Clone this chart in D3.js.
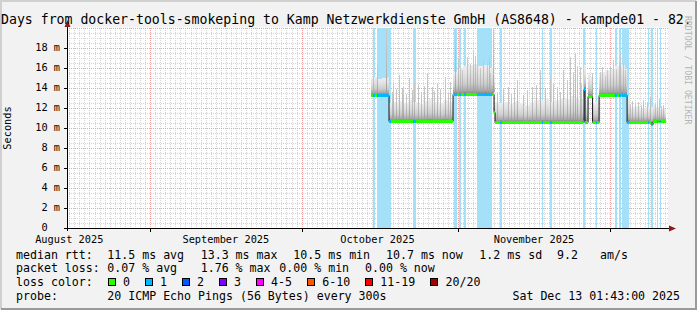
<!DOCTYPE html>
<html>
<head>
<meta charset="utf-8">
<script src="https://d3js.org/d3.v7.min.js"></script>
<style>
  body { margin: 0; background: #f2f2f2; }
  svg text { font-family: "DejaVu Sans Mono", monospace; white-space: pre; }
</style>
</head>
<body>
<svg width="697" height="310"></svg>
<script>
// all times are days counted from 2025-10-01 00:00 UTC
var medianSteps = [
  [13.74, 13.3], [17.30, 10.7], [29.98, 13.4], [38.09, 11.6], [38.29, 10.6],
  [55.72, 10.7], [55.91, 13.9], [56.11, 10.6], [56.71, 13.2], [57.60, 10.6],
  [58.89, 13.3], [64.43, 10.6], [69.19, 10.4], [69.58, 10.7], [72.16, 10.7]
];
// periods with 1/20 lost pings
var lossEvents = [
  [14.14, 14.53], [14.93, 17.70], [22.06, 22.65], [30.17, 30.77], [31.16, 31.56],
  [32.16, 32.55], [34.73, 37.70], [39.28, 39.67], [47.59, 47.79], [49.18, 49.58],
  [55.72, 56.11], [58.29, 58.49], [62.05, 62.45], [62.85, 63.24], [63.44, 64.83],
  [68.59, 68.79], [69.19, 69.48], [70.37, 70.57], [70.87, 71.07]
];
// smoke height above median, per day, starting at day 13
var smokeFirstDay = 13;
var smokeSpread = [
  1.7, 1.8, 1.6, 1.7, 1.8, 1.9, 2.0, 1.8, 2.1, 1.9,
  1.7, 2.0, 2.2, 1.9, 1.8, 2.1, 1.9, 2.2, 2.6, 2.8,
  2.9, 3.0, 2.8, 2.9, 2.6, 2.0, 1.9, 2.0, 1.8, 2.1,
  1.9, 1.7, 2.0, 2.2, 2.1, 2.3, 2.0, 2.2, 2.4, 2.3,
  2.6, 2.5, 2.4, 2.2, 1.9, 2.1, 2.3, 2.5, 2.6, 2.9,
  3.0, 2.6, 1.5, 1.6, 1.4, 1.5, 1.7, 1.4, 1.3, 1.2
];
// single slow pings [day, ms]
var spikes = [
  [14.14, 15.1], [14.93, 16.5], [16.77, 20.0], [18.10, 14.5], [19.28, 15.3],
  [20.08, 14.1], [21.26, 15.0], [22.26, 14.6], [23.05, 14.3], [24.83, 15.5],
  [25.82, 14.1], [26.81, 14.5], [28.39, 15.1], [29.38, 14.6], [30.37, 19.8],
  [31.76, 15.8], [32.75, 17.1], [33.94, 17.8], [34.73, 16.5], [35.91, 16.8],
  [37.30, 15.5], [37.89, 20.0], [39.87, 14.0], [40.86, 14.1], [42.64, 14.8],
  [43.83, 13.3], [45.61, 14.1], [47.19, 15.8], [49.18, 15.0], [50.57, 14.1],
  [51.76, 15.8], [53.14, 17.1], [54.13, 17.5], [55.12, 16.1], [57.50, 15.5],
  [59.48, 16.1], [60.47, 15.8], [61.66, 16.8], [63.05, 17.5], [63.64, 16.5],
  [66.02, 12.5], [67.60, 12.8], [68.99, 13.1], [70.37, 12.6], [71.56, 12.3],
  [17.90, 13.6], [18.70, 13.9], [19.80, 14.0], [20.60, 13.4], [21.80, 13.8],
  [23.60, 13.6], [24.30, 14.2], [26.30, 13.7], [27.40, 13.9], [28.90, 13.5],
  [30.90, 17.0], [31.30, 16.2], [33.30, 16.4], [34.30, 17.2], [35.30, 16.0],
  [36.60, 16.6], [37.00, 17.3], [38.70, 13.6], [41.50, 13.4], [42.00, 14.0],
  [44.60, 13.8], [46.30, 14.3], [48.20, 13.9], [49.80, 14.5], [51.20, 13.6],
  [52.60, 14.8], [53.70, 15.6], [54.60, 16.2], [55.40, 14.4], [59.10, 15.6],
  [60.00, 15.2], [61.10, 16.2], [62.30, 15.9], [62.80, 16.6], [64.00, 15.8],
  [65.10, 12.4], [65.50, 12.7], [66.60, 12.6], [67.10, 12.3], [68.30, 12.6],
  [69.90, 12.4], [70.80, 12.9], [71.20, 12.2]
];
var yTicks = [0, 2, 4, 6, 8, 10, 12, 14, 16, 18];
var monthLabels = ["August 2025", "September 2025", "October 2025", "November 2025"];
var lossClasses = ["0", "1", "2", "3", "4-5", "6-10", "11-19", "20/20"];
var lossColors = ["#26ff00", "#00b8ff", "#0059ff", "#7e00ff", "#ff00ff", "#ff5500", "#ff0000", "#a10000"];
var rttStats = [[107.3, "11.5 ms avg"], [200.7, "13.3 ms max"], [293.3, "10.5 ms min"],
                [386, "10.7 ms now"], [479.3, "1.2 ms sd"], [557, "9.2"], [600, "am/s"]];
var lossStats = [[107.3, "0.07 % avg"], [200.7, "1.76 % max"], [279.3, "0.00 % min"], [365, "0.00 % now"]];
var title = "Days from docker-tools-smokeping to Kamp Netzwerkdienste GmbH (AS8648) - kampde01 - 82.";
var probeText = "20 ICMP Echo Pings (56 Bytes) every 300s";
var stampText = "Sat Dec 13 01:43:00 2025";

var svg = d3.select("svg");
var W = 697, H = 310;
var X0 = 67, X1 = 668, Y0 = 228, Y1 = 27.5;
var DAY = 864e5;
var sep1 = Date.UTC(2025, 8, 1), oct1 = Date.UTC(2025, 9, 1);
var tStart = new Date(sep1 - 16.452 * DAY), tEnd = new Date(sep1 + 102.53 * DAY);

var x = d3.scaleUtc().domain([tStart, tEnd]).range([X0, X1]);
var y = d3.scaleLinear().domain([0, 20]).range([Y0, Y1]);
function dd(d) { return new Date(oct1 + d * DAY); }
function xd(d) { return x(dd(d)); }
function px(v) { return Math.round(v) + 0.5; }
function medianAt(d) {
  var v = medianSteps[0][1];
  medianSteps.forEach(function(p) { if (p[0] <= d) v = p[1]; });
  return v;
}

// frame
svg.append("rect").attr("width", W).attr("height", H).attr("fill", "#f2f2f2");
svg.append("path").attr("d", "M1,309V1H696").attr("fill", "none").attr("stroke", "#d0d0d0").attr("stroke-width", 2);
svg.append("path").attr("d", "M1,309H696V1").attr("fill", "none").attr("stroke", "#9a9a9a").attr("stroke-width", 2);

var defs = svg.append("defs");
defs.append("clipPath").attr("id", "plot").append("rect")
  .attr("x", X0).attr("y", Y1).attr("width", X1 - X0).attr("height", Y0 - Y1);
var sg = defs.append("linearGradient").attr("id", "smk").attr("x1", 0).attr("y1", 1).attr("x2", 0).attr("y2", 0);
[[0, "#7a7a7a"], [0.1, "#a8a8a8"], [0.35, "#cdcdcd"], [0.7, "#e2e2e2"], [1, "#eeeeee"]].forEach(function(s) {
  sg.append("stop").attr("offset", s[0]).attr("stop-color", s[1]);
});
var kg = defs.append("linearGradient").attr("id", "spk").attr("x1", 0).attr("y1", 1).attr("x2", 0).attr("y2", 0);
[[0, "#999999"], [0.3, "#b4b4b4"], [1, "#cccccc"]].forEach(function(s) {
  kg.append("stop").attr("offset", s[0]).attr("stop-color", s[1]);
});

// plot canvas
svg.append("rect").attr("x", X0).attr("y", Y1).attr("width", X1 - X0).attr("height", Y0 - Y1).attr("fill", "#fff");

var grid = svg.append("g").attr("shape-rendering", "crispEdges").attr("stroke-dasharray", "1,1");
var minorY = d3.range(1, 41).map(function(i) { return i / 2; }).filter(function(v) { return v % 2 !== 0; });
grid.selectAll(".hm").data(minorY).enter().append("line")
  .attr("x1", X0).attr("x2", X1).attr("y1", function(v) { return px(y(v)); }).attr("y2", function(v) { return px(y(v)); })
  .attr("stroke", "#d4d4d4");
var days = d3.utcDay.range(tStart, tEnd).filter(function(t) { return t.getUTCDate() !== 1; });
grid.selectAll(".vm").data(days).enter().append("line")
  .attr("y1", Y1).attr("y2", Y0).attr("x1", function(t) { return px(x(t)); }).attr("x2", function(t) { return px(x(t)); })
  .attr("stroke", "#d4d4d4");
grid.selectAll(".hM").data(yTicks.slice(1).concat([20])).enter().append("line")
  .attr("x1", X0).attr("x2", X1).attr("y1", function(v) { return px(y(v)); }).attr("y2", function(v) { return px(y(v)); })
  .attr("stroke", "#f2a0a0");
var months = d3.utcMonth.range(tStart, tEnd);
grid.selectAll(".vM").data(months).enter().append("line")
  .attr("y1", Y1).attr("y2", Y0).attr("x1", function(t) { return px(x(t)); }).attr("x2", function(t) { return px(x(t)); })
  .attr("stroke", "#f2a0a0");

var plot = svg.append("g").attr("clip-path", "url(#plot)");

// loss bars
plot.append("g").attr("shape-rendering", "crispEdges").selectAll("rect").data(lossEvents).enter().append("rect")
  .attr("x", function(e) { return Math.round(xd(e[0])); })
  .attr("width", function(e) { return Math.max(1, Math.round(xd(e[1])) - Math.round(xd(e[0]))); })
  .attr("y", Y1).attr("height", Y0 - Y1)
  .attr("fill", "#a4e1f8");

// smoke
var dataStart = medianSteps[0][0], dataEnd = medianSteps[medianSteps.length - 1][0];
var cuts = medianSteps.map(function(p) { return p[0]; });
var pieces = [];
smokeSpread.forEach(function(s, i) {
  var a = Math.max(smokeFirstDay + i, dataStart), b = Math.min(smokeFirstDay + i + 1, dataEnd);
  if (b <= a) return;
  var edges = [a].concat(cuts.filter(function(c) { return c > a && c < b; }), [b]);
  for (var k = 0; k < edges.length - 1; k++) {
    var m = medianAt((edges[k] + edges[k + 1]) / 2);
    pieces.push({ a: edges[k], b: edges[k + 1], lo: m, hi: m + s });
  }
});
plot.append("g").attr("shape-rendering", "crispEdges").selectAll("rect").data(pieces).enter().append("rect")
  .attr("x", function(p) { return Math.round(xd(p.a)); })
  .attr("width", function(p) { return Math.max(1, Math.round(xd(p.b)) - Math.round(xd(p.a))); })
  .attr("y", function(p) { return y(p.hi); })
  .attr("height", function(p) { return y(p.lo) - y(p.hi); })
  .attr("fill", "url(#smk)");
plot.append("g").attr("shape-rendering", "crispEdges").selectAll("rect").data(spikes).enter().append("rect")
  .attr("x", function(s) { return Math.round(xd(s[0])); })
  .attr("width", 1)
  .attr("y", function(s) { return y(s[1]); })
  .attr("height", function(s) { return y(medianAt(s[0])) - y(s[1]); })
  .attr("fill", "url(#spk)");

// median line
var line = d3.line().curve(d3.curveStepAfter)
  .x(function(p) { return xd(p[0]); }).y(function(p) { return px(y(p[1])); });
plot.append("path").datum(medianSteps).attr("d", line)
  .attr("fill", "none").attr("stroke", "#111").attr("stroke-width", 1);

var brk = cuts.slice();
lossEvents.forEach(function(e) { brk.push(e[0], e[1]); });
brk = brk.filter(function(v) { return v >= dataStart && v <= dataEnd; }).sort(d3.ascending);
var segs = [];
for (var i = 0; i < brk.length - 1; i++) {
  if (brk[i + 1] - brk[i] <= 0) continue;
  var mid = (brk[i] + brk[i + 1]) / 2;
  var lost = lossEvents.some(function(e) { return mid >= e[0] && mid <= e[1]; });
  segs.push({ a: brk[i], b: brk[i + 1], v: medianAt(mid), c: lost ? lossColors[1] : lossColors[0] });
}
plot.append("g").selectAll("line").data(segs).enter().append("line")
  .attr("x1", function(s) { return xd(s.a); }).attr("x2", function(s) { return xd(s.b); })
  .attr("y1", function(s) { return px(y(s.v)); }).attr("y2", function(s) { return px(y(s.v)); })
  .attr("stroke", function(s) { return s.c; }).attr("stroke-width", 3);

// axes
var ax = svg.append("g").attr("shape-rendering", "crispEdges").attr("stroke", "#000");
ax.append("line").attr("x1", X0 + 0.5).attr("x2", X0 + 0.5).attr("y1", Y0 + 3).attr("y2", 24);
ax.append("line").attr("x1", X0 - 3).attr("x2", X1 + 2).attr("y1", Y0 + 0.5).attr("y2", Y0 + 0.5);
ax.selectAll(".yt").data(yTicks.slice(1)).enter().append("line")
  .attr("x1", X0 - 3).attr("x2", X0).attr("y1", function(v) { return px(y(v)); }).attr("y2", function(v) { return px(y(v)); });
ax.selectAll(".xt").data(months).enter().append("line")
  .attr("y1", Y0).attr("y2", Y0 + 4).attr("x1", function(t) { return px(x(t)); }).attr("x2", function(t) { return px(x(t)); });
svg.append("path").attr("d", "M" + (X0 - 2.5) + ",27L" + (X0 + 0.5) + ",20L" + (X0 + 3.5) + ",27Z").attr("fill", "#8b1a1a");
svg.append("path").attr("d", "M" + (X1 + 1) + "," + (Y0 - 2.5) + "L" + (X1 + 8) + "," + (Y0 + 0.5) + "L" + (X1 + 1) + "," + (Y0 + 3.5) + "Z").attr("fill", "#8b1a1a");

// axis labels
svg.append("g").selectAll("text").data(yTicks).enter().append("text")
  .attr("x", 60).attr("y", function(v) { return y(v); }).attr("dy", "0.33em")
  .attr("text-anchor", "end").attr("font-size", 10.3)
  .text(function(v) { return v === 0 ? "0  " : v + " m"; });
var labelMonths = d3.utcMonth.range(new Date(Date.UTC(2025, 7, 1)), tEnd);
svg.append("g").selectAll("text").data(monthLabels).enter().append("text")
  .attr("x", function(l, i) { return x(d3.utcDay.offset(labelMonths[i], 15)); })
  .attr("y", 242.5).attr("text-anchor", "middle").attr("font-size", 10.3)
  .text(function(l) { return l; });
svg.append("text").attr("transform", "translate(11,128) rotate(-90)").attr("text-anchor", "middle")
  .attr("font-size", 10.3).text("Seconds");

// title and watermark
svg.append("text").attr("x", 1).attr("y", 23.7).attr("font-size", 13.2).text(title);
svg.append("text").attr("transform", "translate(685,16) rotate(90)").attr("font-size", 8.2)
  .attr("fill", "#b4b4b4").text("RRDTOOL / TOBI OETIKER");

// legend
var lg = svg.append("g").attr("font-size", 11.6);
var rows = [258.5, 272.2, 285.9, 299.6];
lg.append("text").attr("x", 16).attr("y", rows[0]).text("median rtt:");
rttStats.forEach(function(s) { lg.append("text").attr("x", s[0]).attr("y", rows[0]).text(s[1]); });
lg.append("text").attr("x", 16).attr("y", rows[1]).text("packet loss:");
lossStats.forEach(function(s) { lg.append("text").attr("x", s[0]).attr("y", rows[1]).text(s[1]); });
lg.append("text").attr("x", 16).attr("y", rows[2]).text("loss color:");
var cx = 108;
lossClasses.forEach(function(c, i) {
  lg.append("rect").attr("x", cx + 0.5).attr("y", 278.5).attr("width", 7).attr("height", 7)
    .attr("fill", lossColors[i]).attr("stroke", "#000").attr("shape-rendering", "crispEdges");
  lg.append("text").attr("x", cx + 15).attr("y", rows[2]).text(c);
  cx += 15 + c.length * 7.03 + 15;
});
lg.append("text").attr("x", 16).attr("y", rows[3]).text("probe:");
lg.append("text").attr("x", 107.3).attr("y", rows[3]).text(probeText);
lg.append("text").attr("x", 680).attr("y", rows[3]).attr("text-anchor", "end").text(stampText);
</script>
</body>
</html>
